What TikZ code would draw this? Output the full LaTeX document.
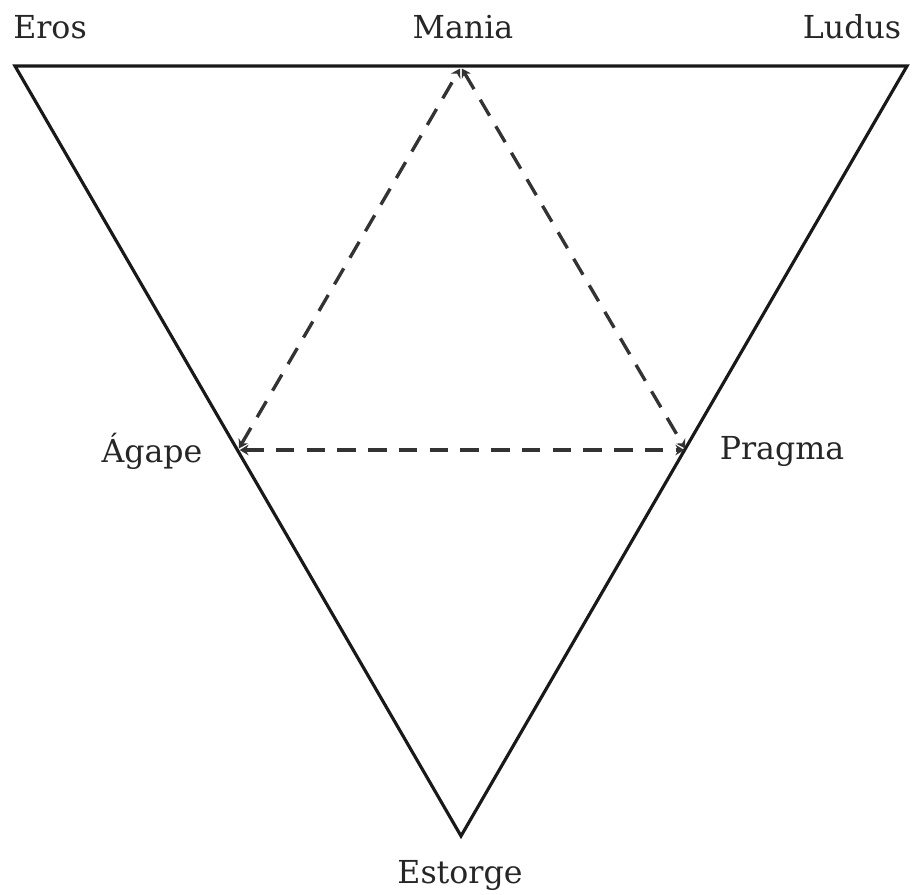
\documentclass[tikz,border=0pt]{standalone}
\usepackage{fontspec}
\setmainfont{DejaVu Serif}
\usetikzlibrary{positioning,arrows.meta}
\tikzset{
  pt/.style={inner sep=0pt, minimum size=0pt},
  lbl/.style={font=\fontsize{18}{21}\selectfont, text=black!85, inner sep=1pt},
  side/.style={draw=black!90, line width=1.8pt, line join=miter},
  dsh/.style={draw=black!80, line width=1.9pt, dash pattern=on 10.5pt off 7pt,
    {Stealth[length=5pt,width=6pt]}-{Stealth[length=5pt,width=6pt]}, shorten <=1pt, shorten >=1pt},
  lovetri/.style={x=0.02cm, y=-0.02cm}
}
\begin{document}
\begin{tikzpicture}[lovetri]
  \useasboundingbox (0,0) rectangle (912,894);
  % outer triangle
  \coordinate (eros) at (15,66);
  \coordinate (ludus) at (907,66);
  \coordinate (estorge) at (461,836);
  % inner triangle
  \coordinate (mania) at (461,67);
  \coordinate (agape) at (238,450);
  \coordinate (pragma) at (686,450);
  \draw[side] (eros) -- (ludus) -- (estorge) -- cycle;
  \draw[dsh] (agape) -- (mania);
  \draw[dsh] (mania) -- (pragma);
  \draw[dsh] (agape) -- (pragma);
  % labels
  \node[lbl] (erosl) at (50,27) {Eros};
  \node[lbl] (manial) at (463,27) {Mania};
  \node[lbl] (ludusl) at (852,27) {Ludus};
  \node[lbl] (agapel) at (152,451) {Ágape};
  \node[lbl] (pragmal) at (782,451) {Pragma};
  \node[lbl] (estorgel) at (460,875) {Estorge};
\end{tikzpicture}
\end{document}
